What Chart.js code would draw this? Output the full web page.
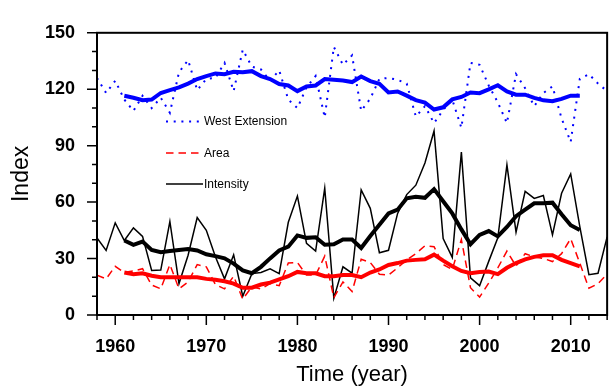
<!DOCTYPE html>
<html>
<head>
<meta charset="utf-8">
<script src="https://cdn.jsdelivr.net/npm/chart.js@4.4.1/dist/chart.umd.min.js"></script>
<style>
  html, body { margin: 0; padding: 0; background: #fff; }
  canvas { display: block; }
</style>
</head>
<body>
<canvas id="chart" width="612" height="389"></canvas>
<script>
// Years on the x axis
const years = [1958, 1959, 1960, 1961, 1962, 1963, 1964, 1965, 1966, 1967,
    1968, 1969, 1970, 1971, 1972, 1973, 1974, 1975, 1976, 1977,
    1978, 1979, 1980, 1981, 1982, 1983, 1984, 1985, 1986, 1987,
    1988, 1989, 1990, 1991, 1992, 1993, 1994, 1995, 1996, 1997,
    1998, 1999, 2000, 2001, 2002, 2003, 2004, 2005, 2006, 2007,
    2008, 2009, 2010, 2011, 2012, 2013, 2014];

// Raw yearly indices (1958-2014)
const westExtension = [126, 118, 124.5, 114.5, 108.5, 116.5, 110, 115.5, 107.5, 129,
    135.5, 119.5, 125.5, 126, 134, 119, 141, 132, 130.5, 124.5,
    130, 114.5, 110, 121, 127, 105, 142.5, 133, 138, 108.5,
    115, 125.5, 126, 125, 123, 105.5, 111, 102, 109, 114.5,
    99.5, 134, 133, 122, 113, 102, 128, 120.5, 111, 118,
    121.5, 104.5, 92, 125.5, 128, 123, 119];
const area = [21.2, 19.2, 25.9, 22.6, 23.4, 24.6, 15.9, 13.9, 26.8, 13.9,
    17.6, 26.8, 25.6, 16.2, 13.9, 20.6, 8.4, 15, 13.9, 16.7,
    15.6, 27.6, 27.9, 21.2, 21.2, 31.3, 9.2, 17.6, 12.5, 29.6,
    27.9, 21.7, 21.2, 25.1, 29.3, 32.6, 36.8, 36.3, 26.8, 24.2,
    40.1, 14.5, 9.5, 17, 25, 34, 26, 32.6, 30.9, 30.1,
    28.4, 32.6, 40.6, 27.6, 14.2, 16.7, 21.7];
const intensity = [41, 34.3, 49, 39.6, 46.3, 41.8, 23.7, 23.9, 49.7, 16.7,
    31.8, 51.8, 45, 31, 19.2, 32, 10, 22, 22.6, 24.6,
    22, 49.3, 63.2, 38.1, 34, 67.4, 8.9, 25.6, 22.2, 66.5,
    56.7, 33.1, 34.4, 54, 64, 69, 80.8, 97.8, 40.6, 30.6,
    86.6, 19.7, 15.6, 28.5, 41, 79.8, 44, 65.7, 62, 63.5,
    42.6, 64.7, 75, 47, 21.4, 22.2, 41.5];

// Smoothed curves (1961-2011)
const westSmooth = [116.5, 115.5, 114.2, 114.5, 118, 119.5, 121, 123, 125.4, 127,
    128.4, 128, 129.3, 129, 129.6, 127, 125.4, 122.8, 122, 119,
    121.5, 122, 125.4, 125, 124.6, 123.8, 126.8, 124.3, 122.9, 118.3,
    118.8, 116.6, 114.2, 112.9, 109.2, 110.4, 114.6, 115.9, 118.3, 117.9,
    119.9, 122.1, 118.8, 117.1, 117.1, 115.4, 114.1, 113.6, 114.9, 116.6,
    116.6];
const areaSmooth = [22.6, 21.7, 22.2, 20.9, 20.1, 20.1, 20.1, 20.1, 20.1, 19.2,
    18.7, 17.9, 16.7, 14.5, 14.5, 16.2, 17.2, 18.9, 20.6, 22.9,
    22.2, 22.2, 20.6, 20.6, 21.2, 21.2, 20.1, 22.6, 24.2, 26.6,
    27.6, 28.9, 29.3, 29.6, 32.1, 28.9, 25.9, 23.4, 22.2, 22.9,
    23.1, 21.7, 25.1, 27.6, 29.6, 30.9, 31.8, 31.8, 29.3, 27.6,
    25.9];
const intensitySmooth = [39.6, 37.3, 39, 34.6, 33.4, 34, 34.6, 35.1, 34.3, 32.3,
    31.3, 30.1, 27.3, 23.7, 22.2, 25.6, 30.1, 34.3, 36.3, 42.3,
    41, 41.3, 37.3, 37.6, 40.1, 40.1, 35.6, 42, 48, 54,
    56, 62, 62.8, 62.3, 66.9, 60.5, 54, 45.5, 37.6, 42.6,
    44.6, 41.8, 46.8, 52.5, 56, 59.4, 59.4, 59.7, 53.5, 47.7,
    45.2];
const smoothYears = years.slice(3, 3 + westSmooth.length);

// Axis ticks
const xTicks = [1960, 1970, 1980, 1990, 2000, 2010];
const yTicks = [0, 30, 60, 90, 120, 150];
const legendLabels = ['West Extension', 'Area', 'Intensity'];

const FONT = "'Liberation Sans', Arial, Helvetica, sans-serif";

function toPoints(xs, ys) {
    return xs.map((x, i) => ({ x: x, y: ys[i] }));
}

function lineSet(label, xs, ys, color, width, dash, order) {
    return {
        label: label,
        data: toPoints(xs, ys),
        borderColor: color,
        backgroundColor: color,
        borderWidth: width,
        borderDash: dash,
        pointRadius: 0,
        tension: 0,
        fill: false,
        order: order
    };
}

// Frame, tick marks (major + minor) and the in-plot legend
const framePlugin = {
    id: 'frame',
    afterDraw(chart) {
        const ctx = chart.ctx;
        const area = chart.chartArea;
        const xs = chart.scales.x;
        const ys = chart.scales.y;
        ctx.save();
        ctx.strokeStyle = '#000';
        ctx.lineWidth = 1.5;
        ctx.beginPath();
        for (let v = 1958; v <= 2014; v += 2) {
            const px = xs.getPixelForValue(v);
            const len = v % 10 === 0 ? 10 : 5;
            ctx.moveTo(px, area.bottom);
            ctx.lineTo(px, area.bottom + len);
        }
        for (let v = 0; v <= 150; v += 10) {
            const py = ys.getPixelForValue(v);
            const len = v % 30 === 0 ? 10 : 5;
            ctx.moveTo(area.left, py);
            ctx.lineTo(area.left - len, py);
        }
        ctx.stroke();

        ctx.lineWidth = 2;
        ctx.strokeRect(area.left, area.top, area.right - area.left, area.bottom - area.top);

        // legend
        const rows = [121.5, 153, 184];
        ctx.font = '12px ' + FONT;
        ctx.textBaseline = 'middle';
        ctx.fillStyle = '#000';
        legendLabels.forEach((label, i) => {
            const ds = chart.data.datasets[i];
            ctx.strokeStyle = ds.borderColor;
            ctx.lineWidth = ds.borderWidth;
            ctx.setLineDash(ds.borderDash || []);
            ctx.beginPath();
            ctx.moveTo(166, rows[i]);
            ctx.lineTo(i === 2 ? 203 : 199, rows[i]);
            ctx.stroke();
            ctx.setLineDash([]);
            ctx.fillText(label, 204, rows[i] + 0.5);
        });
        ctx.restore();
    }
};

new Chart(document.getElementById('chart'), {
    type: 'line',
    data: {
        datasets: [
            lineSet('West Extension', years, westExtension, '#0000ff', 2, [2, 5.7], 1),
            lineSet('Area', years, area, '#ff0000', 1.5, [7.5, 5], 1),
            lineSet('Intensity', years, intensity, '#000000', 1.5, [], 1),
            lineSet('West Extension (smoothed)', smoothYears, westSmooth, '#0000ff', 4, [], 0),
            lineSet('Area (smoothed)', smoothYears, areaSmooth, '#ff0000', 4, [], 0),
            lineSet('Intensity (smoothed)', smoothYears, intensitySmooth, '#000000', 4, [], 0)
        ]
    },
    options: {
        responsive: false,
        animation: false,
        devicePixelRatio: 1,
        layout: { padding: { top: 16, right: 4, left: 0, bottom: 0 } },
        plugins: {
            legend: { display: false },
            tooltip: { enabled: false }
        },
        scales: {
            x: {
                type: 'linear',
                min: 1958,
                max: 2014,
                grid: { display: false, drawTicks: false },
                border: { display: false },
                afterBuildTicks: (scale) => { scale.ticks = xTicks.map(v => ({ value: v })); },
                afterFit: (scale) => { scale.height = 74; },
                ticks: {
                    color: '#000',
                    padding: 21,
                    maxRotation: 0,
                    autoSkip: false,
                    font: { family: FONT, size: 18, weight: 'bold' },
                    callback: (v) => String(v)
                },
                title: {
                    display: true,
                    text: 'Time (year)',
                    color: '#000',
                    font: { family: FONT, size: 22 },
                    padding: { top: 0, bottom: 1 }
                }
            },
            y: {
                min: 0,
                max: 150,
                grid: { display: false, drawTicks: false },
                border: { display: false },
                afterBuildTicks: (scale) => { scale.ticks = yTicks.map(v => ({ value: v })); },
                afterFit: (scale) => { scale.width = 97; },
                ticks: {
                    color: '#000',
                    padding: 22,
                    font: { family: FONT, size: 18, weight: 'bold' }
                },
                title: {
                    display: true,
                    text: 'Index',
                    color: '#000',
                    font: { family: FONT, size: 23 },
                    padding: { top: 8, bottom: 0 }
                }
            }
        }
    },
    plugins: [framePlugin]
});
</script>
</body>
</html>
